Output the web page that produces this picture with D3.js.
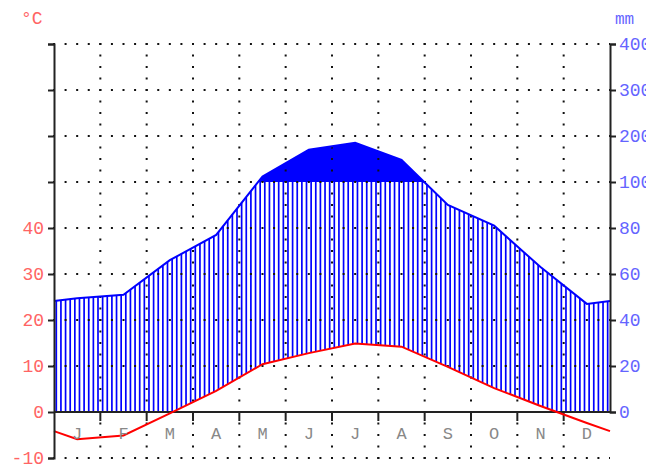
<!DOCTYPE html>
<html>
<head>
<meta charset="utf-8">
<script src="https://cdn.jsdelivr.net/npm/d3@7"></script>
<style>
  body { margin: 0; background: #fff; }
  text { font-family: "Liberation Mono", "DejaVu Sans Mono", monospace; }
</style>
</head>
<body>
<div id="chart"></div>
<script>
var months = ["J", "F", "M", "A", "M", "J", "J", "A", "S", "O", "N", "D"];
var temps = [-5.9, -5.1, -0.3, 4.6, 10.4, 12.8, 14.9, 14.2, 9.8, 5.2, 1.3, -2.4]; // °C
var precip = [49.5, 51, 66, 77, 112, 170, 185, 148, 90, 81, 63, 47]; // mm
var tempTicks = [-10, 0, 10, 20, 30, 40, 50, 60, 70, 80];
var tempLabels = [-10, 0, 10, 20, 30, 40];
var precipTicks = [0, 20, 40, 60, 80, 100, 200, 300, 400];

var W = 646, H = 469;
var pLeft = 54, pRight = 610, pTop = 44, pBottom = 458;

var svg = d3.select("#chart").append("svg")
    .attr("width", W)
    .attr("height", H);

var x = d3.scaleLinear().domain([0, 12]).range([pLeft, pRight]);
var yT = d3.scaleLinear().domain([-10, 80]).range([pBottom, pTop]);
// precipitation: 20mm = 10°C up to 100mm, then 100mm = 10°C
var yP = d3.scaleLinear().domain([0, 100, 400]).range([yT(0), yT(50), pTop]);

// curve points at month centres, wrapped to the edges
function withEdges(vals){
    var edge = (vals[0] + vals[vals.length - 1]) / 2;
    var pts = [[0, edge]];
    vals.forEach(function(v, i){ pts.push([i + 0.5, v]); });
    pts.push([12, edge]);
    return pts;
}
var tPts = withEdges(temps);
var pPts = withEdges(precip);

// piecewise interpolators in pixel space
var tPix = d3.scaleLinear().domain(tPts.map(d => x(d[0]))).range(tPts.map(d => yT(d[1])));
var pPix = d3.scaleLinear().domain(pPts.map(d => x(d[0]))).range(pPts.map(d => yP(d[1])));

var y100 = yP(100), y0 = yT(0);

// solid fill above 100mm
var xs = d3.range(pLeft, pRight + 0.01, 0.5);
svg.append("path")
    .attr("d", d3.area()
        .x(d => d)
        .y0(y100)
        .y1(d => Math.min(pPix(d), y100))(xs))
    .attr("fill", "#0000ff");

// humid hatching
var hatch = d3.range(120).map(i => pLeft + 2.3 + i * (pRight - pLeft) / 120);
svg.selectAll(".hatch").data(hatch).enter().append("line")
    .attr("x1", d => d).attr("x2", d => d)
    .attr("y1", d => Math.max(pPix(d), y100))
    .attr("y2", d => Math.min(tPix(d), y0))
    .attr("stroke", "#0000ff")
    .attr("stroke-width", 1.7);

// dotted grid
var step = (pRight - pLeft) / 48;
var gY = d3.range(pTop, pBottom + 1, 46);
svg.selectAll(".gh").data(gY.filter(d => Math.abs(d - y0) > 1)).enter().append("line")
    .attr("x1", pLeft - 1).attr("x2", pRight)
    .attr("y1", d => d).attr("y2", d => d)
    .attr("stroke", "#111")
    .attr("stroke-width", 2)
    .attr("stroke-dasharray", "2," + (step - 2));
svg.selectAll(".gv").data(d3.range(1, 12)).enter().append("line")
    .attr("x1", d => x(d)).attr("x2", d => x(d))
    .attr("y1", pTop - 1).attr("y2", pBottom + 1)
    .attr("stroke", "#111")
    .attr("stroke-width", 2)
    .attr("stroke-dasharray", "2,9.5");

// month ticks below zero line
svg.selectAll(".mt").data(d3.range(1, 12)).enter().append("line")
    .attr("x1", d => x(d)).attr("x2", d => x(d))
    .attr("y1", y0).attr("y2", y0 + 9)
    .attr("stroke", "#222")
    .attr("stroke-width", 2);

// precipitation line
svg.append("path")
    .attr("d", d3.line().x(d => x(d[0])).y(d => yP(d[1]))(pPts))
    .attr("fill", "none")
    .attr("stroke", "#0000ff")
    .attr("stroke-width", 2);

// zero line
svg.append("line")
    .attr("x1", pLeft).attr("x2", pRight)
    .attr("y1", y0).attr("y2", y0)
    .attr("stroke", "#222")
    .attr("stroke-width", 2);

// temperature line
svg.append("path")
    .attr("d", d3.line().x(d => x(d[0])).y(d => yT(d[1]))(tPts))
    .attr("fill", "none")
    .attr("stroke", "#ff0000")
    .attr("stroke-width", 2);

// axes
var axL = svg.append("g").attr("transform", "translate(" + pLeft + ",0)")
    .call(d3.axisLeft(yT).tickValues(tempTicks).tickSize(6)
        .tickFormat(d => tempLabels.indexOf(d) >= 0 ? d : ""));
var axR = svg.append("g").attr("transform", "translate(" + pRight + ",0)")
    .call(d3.axisRight(yP).tickValues(precipTicks).tickSize(6).tickFormat(d => d));

[axL, axR].forEach(function(ax){
    ax.select(".domain").attr("stroke", "#222").attr("stroke-width", 2);
    ax.selectAll(".tick line").attr("stroke", "#222").attr("stroke-width", 2);
    ax.selectAll(".tick text")
        .style("font-family", "'Liberation Mono', monospace")
        .style("font-size", "18px");
});
axL.selectAll(".tick text").attr("fill", "#ff6464").attr("x", -10);
axR.selectAll(".tick text").attr("fill", "#6464ff").attr("x", 9);

// month labels
svg.selectAll(".ml").data(months).enter().append("text")
    .attr("x", (d, i) => x(i + 0.5))
    .attr("y", 435)
    .attr("text-anchor", "middle")
    .attr("dominant-baseline", "middle")
    .attr("fill", "#888")
    .style("font-size", "17px")
    .text(d => d);

// units
svg.append("text")
    .attr("x", 21).attr("y", 24)
    .attr("fill", "#ff6464")
    .style("font-size", "18px")
    .text("°C");
svg.append("text")
    .attr("x", 615).attr("y", 24)
    .attr("fill", "#6464ff")
    .style("font-size", "16px")
    .text("mm");
</script>
</body>
</html>
